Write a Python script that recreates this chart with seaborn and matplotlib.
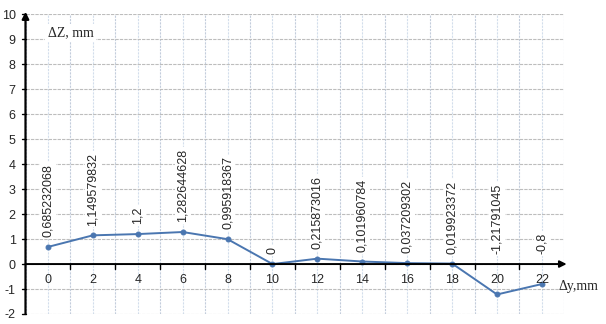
import matplotlib
matplotlib.use("Agg")
import matplotlib.pyplot as plt
import seaborn as sns
import pandas as pd
import numpy as np

dy = [0, 2, 4, 6, 8, 10, 12, 14, 16, 18, 20, 22]
dz = [0.685232068, 1.149579832, 1.2, 1.282644628, 0.995918367, 0.0,
      0.215873016, 0.101960784, 0.037209302, 0.019923372, -1.21791045, -0.8]
labels = ["0,685232068", "1,149579832", "1,2", "1,282644628", "0,995918367", "0",
          "0,215873016", "0,101960784", "0,037209302", "0,019923372", "-1,21791045", "-0,8"]
yticks = list(range(-2, 11))
xticks = dy

sns.set_style("white")
plt.rcParams['font.family'] = ['Liberation Sans', 'DejaVu Sans']

fig = plt.figure(figsize=(6.06, 3.24), dpi=100)
ax = fig.add_axes([25.5 / 606, 1 - 314 / 324, (564.4 - 25.5) / 606, (314 - 14.3) / 324])

df = pd.DataFrame({"dy": dy, "dz": dz})

# grid
for x in range(-1, 24):
    ax.axvline(x, color="#d3deec" if x % 2 == 0 else "#c3cddc", lw=0.8,
               ls=(0, (2, 1)), zorder=0)
for y in yticks:
    ax.axhline(y, color="#bdbdbd", lw=0.8, ls=(0, (3, 1)), zorder=0)

sns.lineplot(data=df, x="dy", y="dz", ax=ax, color="#4a76b0", lw=1.4,
             marker="o", markersize=3.5, markeredgecolor="#4a76b0", zorder=5)

ax.set_xlim(-1, 23)
ax.set_ylim(-2, 10)
for s in ax.spines.values():
    s.set_visible(False)
ax.set_xlabel("")
ax.set_ylabel("")
ax.set_xticks([])
ax.set_yticks(yticks)
ax.set_yticklabels([str(v) for v in yticks], fontsize=9)
ax.tick_params(axis="y", length=0, pad=7)

# axes lines with arrows
ax.annotate("", xy=(-1, 10.1), xytext=(-1, -2), xycoords="data",
            arrowprops=dict(arrowstyle="-|>", color="black", lw=1.6,
                            mutation_scale=10, shrinkA=0, shrinkB=0),
            annotation_clip=False, zorder=6)
ax.annotate("", xy=(23.1, 0), xytext=(-1, 0), xycoords="data",
            arrowprops=dict(arrowstyle="-|>", color="black", lw=1.4,
                            mutation_scale=10, shrinkA=0, shrinkB=0),
            annotation_clip=False, zorder=6)
# y-axis small ticks
for y in yticks:
    ax.plot([-1.15, -1], [y, y], color="black", lw=1, clip_on=False, zorder=6)
# x-axis ticks at category boundaries
for x in range(1, 23, 2):
    ax.plot([x, x], [0, -0.18], color="black", lw=1, clip_on=False, zorder=6)
# x tick labels below axis
for x in xticks:
    ax.text(x, -0.65, str(x), ha="center", va="center", fontsize=9, zorder=6)

# data labels
for x, v, t in zip(dy, dz, labels):
    ax.annotate(t, xy=(x, max(v, 0)), xytext=(0, 7), textcoords="offset points",
                rotation=90, ha="center", va="bottom", fontsize=9,
                bbox=dict(boxstyle="square,pad=0.15", fc="white", ec="none"),
                zorder=7)

ax.text(0, 9.25, "ΔZ, mm", fontsize=10, family=["Liberation Serif", "DejaVu Serif"],
        ha="left", va="center",
        bbox=dict(boxstyle="square,pad=0.2", fc="white", ec="none"), zorder=7)
ax.text(22.75, -0.9, "Δy,mm", fontsize=10, family=["Liberation Serif", "DejaVu Serif"],
        ha="left", va="center", clip_on=False, zorder=7)

fig.savefig("out.png", dpi=100)
